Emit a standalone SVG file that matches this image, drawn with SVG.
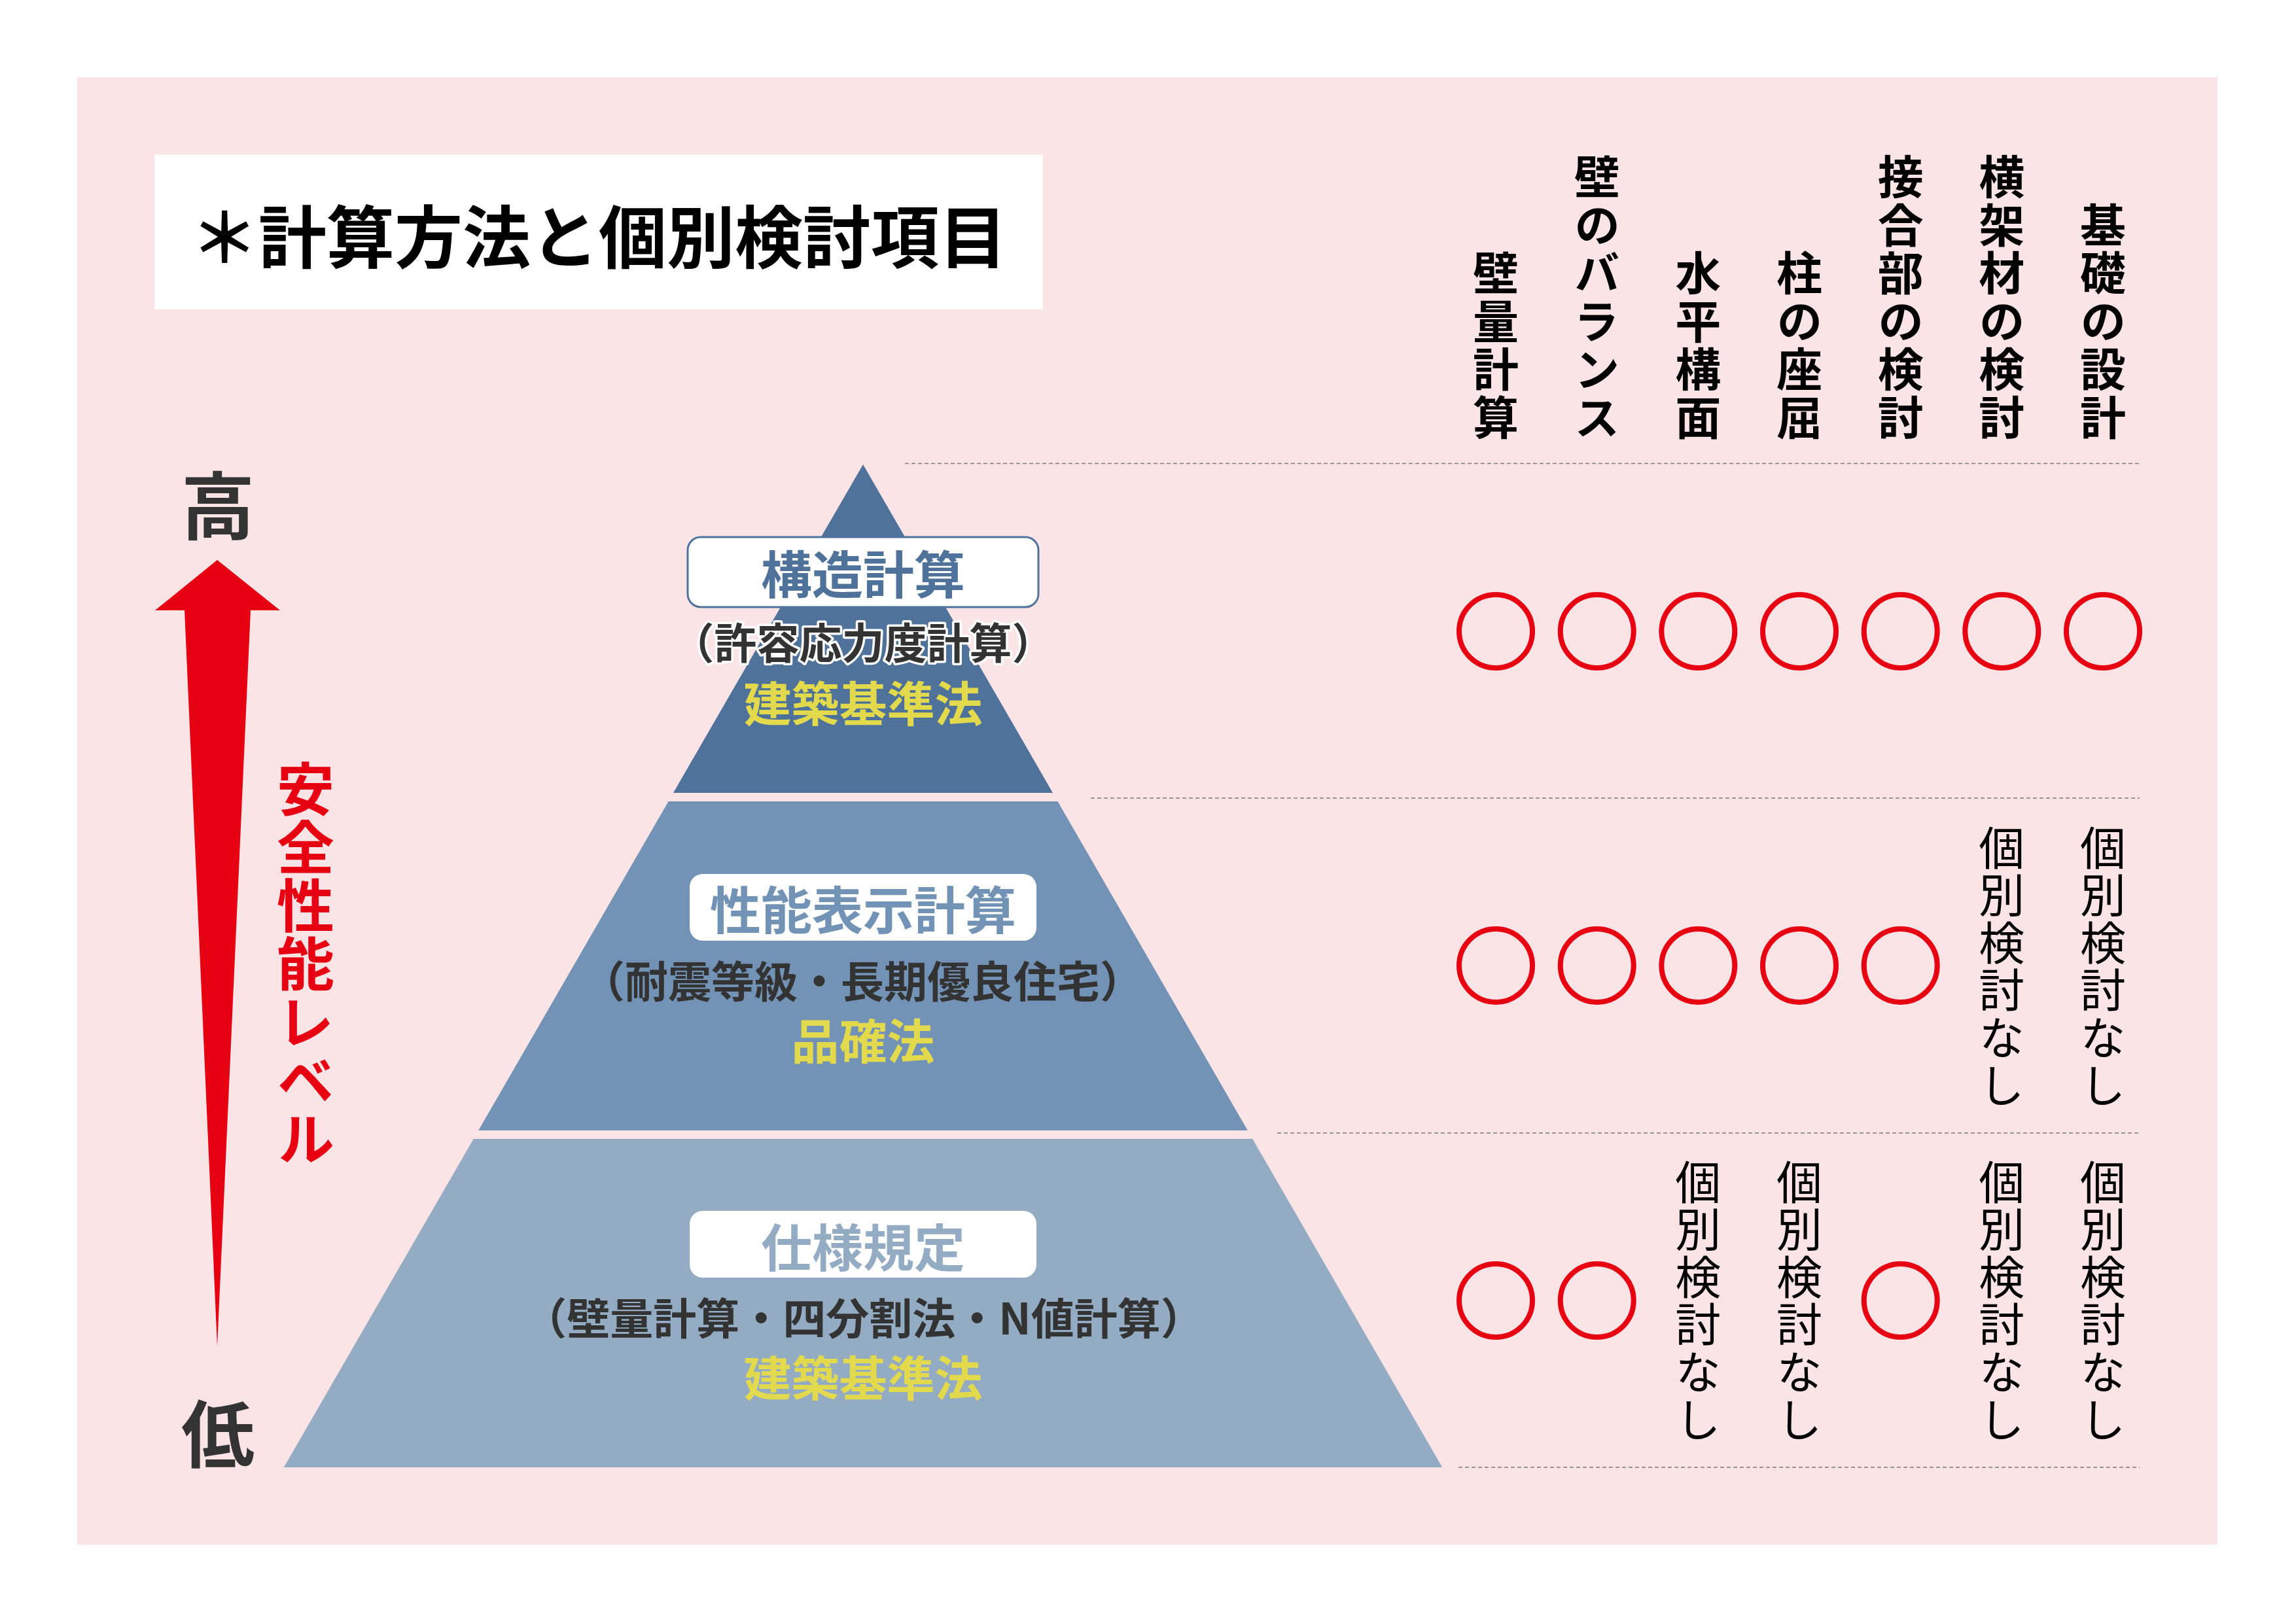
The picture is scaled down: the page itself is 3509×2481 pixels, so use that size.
<svg xmlns="http://www.w3.org/2000/svg" width="3509" height="2481" viewBox="0 0 3509 2481">
<style>
text { font-family: "Noto Sans CJK JP", "Noto Sans", sans-serif; dominant-baseline: central; text-anchor: middle; }
.vt { writing-mode: vertical-rl; text-anchor: start; }
.title { font-size: 104px; fill: #000; font-weight: 700; }
.lvl { font-size: 112px; fill: #333; font-weight: 700; }
.safe { font-size: 88px; fill: #E60012; font-weight: 700; letter-spacing: 1px; }
.hdr { font-size: 70px; fill: #000; font-weight: 700; letter-spacing: 3.5px; }
.none { font-size: 70px; fill: #000; font-weight: 400; letter-spacing: 2.6px; }
.name { font-size: 78px; font-weight: 700; }
.sub { font-size: 66px; fill: #333; font-weight: 700; }
.law { font-size: 73px; fill: #E2D94C; font-weight: 700; }
.halo { stroke: #fff; stroke-width: 7px; paint-order: stroke; stroke-linejoin: round; }
.dot { stroke: #7a7a7a; stroke-width: 1.6; stroke-dasharray: 6 4; fill: none; }
.ok { fill: none; stroke: #E60012; stroke-width: 8; }
.box { fill: #fff; }
</style>
<rect x="0" y="0" width="3509" height="2481" fill="#ffffff"/>
<rect id="background" x="118" y="118" width="3271" height="2243" fill="#FAE4E6"/>

<g id="title">
<rect x="236" y="236" width="1358" height="237" fill="#ffffff"/>
<text class="title" x="915" y="356">＊計算方法と個別検討項目</text>
</g>

<g id="level-axis">
<text id="high" class="lvl" x="333" y="767">高</text>
<text id="low" class="lvl" x="333" y="2186">低</text>
<polygon id="arrow" points="332,856 428,933 383,933 332,2058 282,933 237,933" fill="#E60012"/>
<text id="safety-level" class="safe vt" x="467" y="1162">安全性能レベル</text>
</g>

<g id="grid-lines">
<line class="dot" x1="1383" y1="708.5" x2="3270" y2="708.5"/>
<line class="dot" x1="1667" y1="1220" x2="3270" y2="1220"/>
<line class="dot" x1="1952" y1="1732" x2="3270" y2="1732"/>
<line class="dot" x1="2229" y1="2243" x2="3270" y2="2243"/>
</g>

<g id="tier-structural">
<polygon points="1319,710 1609,1212 1029,1212" fill="#4F729B"/>
<rect class="box" x="1051" y="821" width="536" height="107" rx="20" stroke="#4F729B" stroke-width="3"/>
<text class="name" x="1319" y="874" fill="#4F729B">構造計算</text>
<text class="sub halo" x="1319" y="979" style="font-size:65px">（許容応力度計算）</text>
<text class="law" x="1319" y="1071">建築基準法</text>
</g>

<g id="tier-performance">
<polygon points="1021.6,1225 1616.4,1225 1906.8,1728 731.2,1728" fill="#7293B5"/>
<rect class="box" x="1054" y="1336" width="530" height="102" rx="20"/>
<text class="name" x="1319" y="1387" fill="#7293B5">性能表示計算</text>
<text class="sub" x="1318" y="1496">（耐震等級・長期優良住宅）</text>
<text class="law" x="1319" y="1587">品確法</text>
</g>

<g id="tier-specification">
<polygon points="723.7,1741 1914.3,1741 2204.2,2243 433.8,2243" fill="#93ACC3"/>
<rect class="box" x="1054" y="1851" width="530" height="102" rx="20"/>
<text class="name" x="1319" y="1903" fill="#93ACC3">仕様規定</text>
<text class="sub" x="1320" y="2011">（壁量計算・四分割法・N値計算）</text>
<text class="law" x="1319" y="2102">建築基準法</text>
</g>

<g id="col-wall-amount">
<text class="hdr vt" x="2286" y="382.5">壁量計算</text>
<circle class="ok" cx="2286" cy="965" r="56"/>
<circle class="ok" cx="2286" cy="1476" r="56"/>
<circle class="ok" cx="2286" cy="1988" r="56"/>
</g>

<g id="col-wall-balance">
<text class="hdr vt" x="2440.7" y="235.5">壁のバランス</text>
<circle class="ok" cx="2440.7" cy="965" r="56"/>
<circle class="ok" cx="2440.7" cy="1476" r="56"/>
<circle class="ok" cx="2440.7" cy="1988" r="56"/>
</g>

<g id="col-horizontal-plane">
<text class="hdr vt" x="2595.3" y="382.5">水平構面</text>
<circle class="ok" cx="2595.3" cy="965" r="56"/>
<circle class="ok" cx="2595.3" cy="1476" r="56"/>
<text class="none vt" x="2595.3" y="1772">個別検討なし</text>
</g>

<g id="col-column-buckling">
<text class="hdr vt" x="2750" y="382.5">柱の座屈</text>
<circle class="ok" cx="2750" cy="965" r="56"/>
<circle class="ok" cx="2750" cy="1476" r="56"/>
<text class="none vt" x="2750" y="1772">個別検討なし</text>
</g>

<g id="col-joints">
<text class="hdr vt" x="2904.7" y="235.5">接合部の検討</text>
<circle class="ok" cx="2904.7" cy="965" r="56"/>
<circle class="ok" cx="2904.7" cy="1476" r="56"/>
<circle class="ok" cx="2904.7" cy="1988" r="56"/>
</g>

<g id="col-beams">
<text class="hdr vt" x="3059.3" y="235.5">横架材の検討</text>
<circle class="ok" cx="3059.3" cy="965" r="56"/>
<text class="none vt" x="3059.3" y="1261">個別検討なし</text>
<text class="none vt" x="3059.3" y="1772">個別検討なし</text>
</g>

<g id="col-foundation">
<text class="hdr vt" x="3214" y="309">基礎の設計</text>
<circle class="ok" cx="3214" cy="965" r="56"/>
<text class="none vt" x="3214" y="1261">個別検討なし</text>
<text class="none vt" x="3214" y="1772">個別検討なし</text>
</g>
</svg>
